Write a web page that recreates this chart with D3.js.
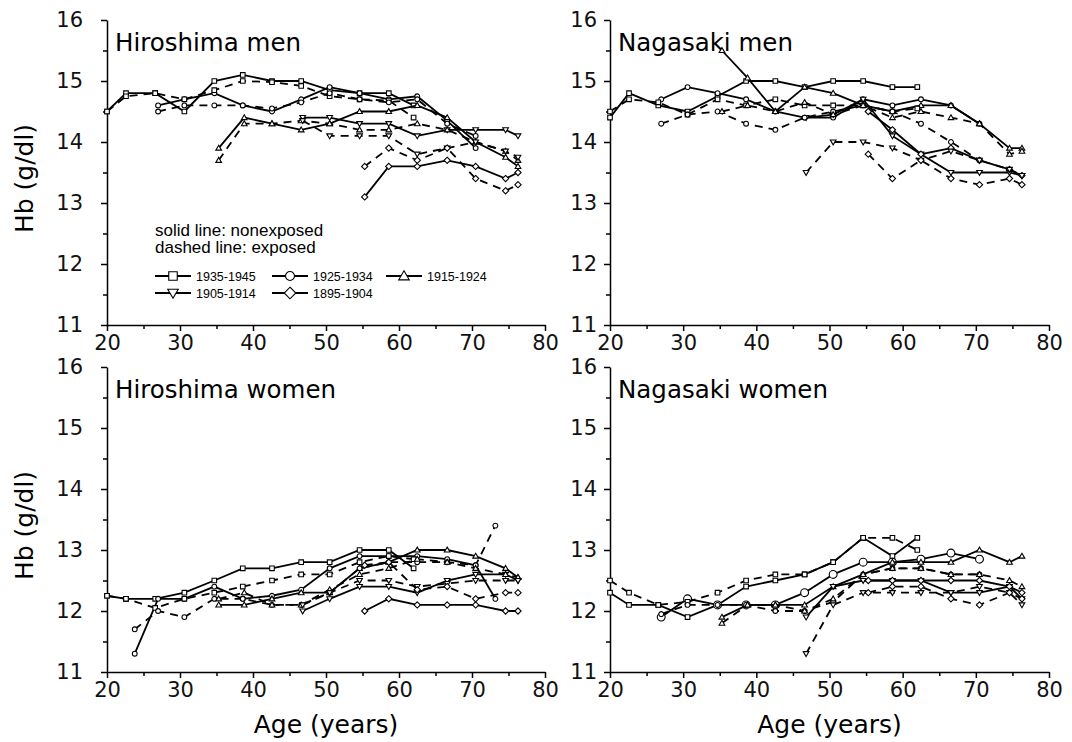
<!DOCTYPE html>
<html lang="en">
  <head>
    <meta charset="UTF-8" />
    <title>Hb by age and birth cohort</title>
    <style>
      body { margin: 0; background: #fff; }
      svg { display: block; }
      .tick text { font-family: "DejaVu Sans", sans-serif; font-size: 21px; fill: #111; }
      .axis path, .axis line { stroke: #000; stroke-width: 1.5px; }
      .series { fill: none; stroke: #000; stroke-width: 1.8px; }
      .series.exp { stroke-dasharray: 8, 6; }
      .mark { fill: #fff; stroke: #000; stroke-width: 1.1px; }
      .title { font-family: "DejaVu Sans", sans-serif; font-size: 24.5px; fill: #000; }
      .axtitle { font-family: "DejaVu Sans", sans-serif; font-size: 25px; fill: #000; }
      .legend { font-family: "Liberation Sans", Arial, sans-serif; fill: #000; }
    </style>
  </head>

  <body>
    <script src="https://cdn.jsdelivr.net/npm/d3@7"></script>
    <script>
      /* global d3 */

      // birth cohorts and the mean age at each examination cycle
      const cohorts = ["1935-1945", "1925-1934", "1915-1924", "1905-1914", "1895-1904"];
      const age1935 = [20.0, 22.6, 26.6, 30.6, 34.7, 38.6, 42.6, 46.6, 50.5, 54.6, 58.6, 62.0];
      const age1925 = [23.8, 27.0, 30.6, 34.7, 38.6, 42.6, 46.6, 50.5, 54.6, 58.6, 62.5, 66.6, 70.5, 73.2];
      const age1915 = [35.3, 38.8, 42.6, 46.6, 50.5, 54.6, 58.6, 62.5, 66.6, 70.5, 74.6, 76.3];
      const age1905 = [46.8, 50.5, 54.6, 58.6, 62.5, 66.6, 70.5, 74.6, 76.3];
      const age1895 = [55.3, 58.6, 62.5, 66.6, 70.5, 74.6, 76.3];
      const cohortAges = [age1935, age1925, age1915, age1905, age1895];

      const xTicks = [20, 30, 40, 50, 60, 70, 80];
      const yTicks = [11, 12, 13, 14, 15, 16];

      // Hb (g/dl), one row per cohort, null = not examined
      const hiroMenNonexp = [
        [14.5, 14.8, 14.8, 14.5, 15.0, 15.1, 15.0, 15.0, 14.85, 14.8, 14.8, 14.6],
        [null, 14.6, 14.7, 14.8, 14.6, 14.5, 14.7, 14.9, 14.8, 14.7, 14.75, 14.35, 13.9, null],
        [13.9, 14.4, 14.3, 14.2, 14.3, 14.5, 14.5, 14.6, 14.4, 14.0, 13.75, 13.6],
        [14.4, 14.4, 14.3, 14.3, 14.1, 14.2, 14.2, 14.2, 14.1],
        [13.1, 13.6, 13.6, 13.7, 13.6, 13.4, 13.5]
      ];
      const hiroMenExp = [
        [14.5, 14.75, 14.8, 14.7, 14.85, 15.0, 14.98, 14.92, 14.75, 14.7, 14.68, 14.4],
        [null, 14.5, 14.6, 14.6, 14.6, 14.55, 14.65, 14.8, 14.7, 14.65, 14.7, 14.3, 14.1, null],
        [13.7, 14.3, 14.3, 14.35, 14.3, 14.2, 14.2, 14.3, 14.2, 14.0, 13.85, 13.7],
        [14.35, 14.1, 14.1, 14.1, 13.8, 13.9, 14.0, 13.85, 13.75],
        [13.6, 13.9, 13.7, 13.9, 13.4, 13.2, 13.3]
      ];
      const nagaMenNonexp = [
        [14.4, 14.8, 14.6, 14.5, 14.75, 15.0, 15.0, 14.9, 15.0, 15.0, 14.9, 14.9],
        [null, 14.7, 14.9, 14.8, 14.7, 14.5, 14.4, 14.4, 14.7, 14.6, 14.7, 14.6, 14.3, null],
        [15.5, 15.05, 14.5, 14.9, 14.8, 14.6, 14.5, 14.6, 14.6, 14.3, 13.9, 13.9],
        [14.4, 14.45, 14.7, 14.1, 13.8, 13.5, 13.5, 13.5, 13.45],
        [14.5, 14.2, 13.8, 13.9, 13.7, 13.55, 13.45]
      ];
      const nagaMenExp = [
        [14.5, 14.7, 14.65, 14.45, 14.7, 14.6, 14.7, 14.6, 14.6, 14.6, 14.5, 14.55],
        [null, 14.3, 14.45, 14.5, 14.3, 14.2, 14.4, 14.5, 14.6, 14.5, 14.3, 14.0, 13.7, null],
        [14.5, 14.6, 14.5, 14.65, 14.45, 14.6, 14.4, 14.5, 14.4, 14.3, 13.8, 13.85],
        [13.5, 14.0, 14.0, 13.9, 13.7, 13.85, 13.7, 13.55, 13.45],
        [13.8, 13.4, 13.7, 13.4, 13.3, 13.4, 13.3]
      ];
      const hiroWomenNonexp = [
        [12.25, 12.2, 12.2, 12.3, 12.5, 12.7, 12.7, 12.8, 12.8, 13.0, 13.0, 12.7],
        [11.3, 12.2, 12.2, 12.4, 12.2, 12.25, 12.35, 12.7, 12.9, 12.9, 12.9, 12.85, 12.75, 12.2],
        [12.1, 12.1, 12.2, 12.3, 12.3, 12.7, 12.8, 13.0, 13.0, 12.9, 12.7, 12.55],
        [12.0, 12.2, 12.4, 12.4, 12.3, 12.5, 12.6, 12.6, 12.5],
        [12.0, 12.2, 12.1, 12.1, 12.1, 12.0, 12.0]
      ];
      const hiroWomenExp = [
        [12.25, 12.2, 12.05, 12.2, 12.3, 12.4, 12.5, 12.6, 12.6, 12.8, 12.9, 12.85],
        [11.7, 12.0, 11.9, 12.2, 12.2, 12.1, 12.1, 12.3, 12.7, 12.8, 12.8, 12.8, 12.75, 13.4],
        [12.2, 12.3, 12.1, 12.1, 12.35, 12.6, 12.7, 12.85, 12.8, 12.7, 12.6, 12.55],
        [12.1, 12.3, 12.5, 12.5, 12.4, 12.45, 12.5, 12.5, 12.5],
        [12.75, 12.8, 12.35, 12.4, 12.2, 12.3, 12.3]
      ];
      const nagaWomenNonexp = [
        [12.3, 12.1, 12.1, 11.9, 12.1, 12.4, 12.5, 12.6, 12.8, 13.2, 12.9, 13.2],
        [null, 11.9, 12.2, 12.1, 12.1, 12.1, 12.3, 12.6, 12.8, 12.8, 12.85, 12.95, 12.85, null],
        [11.9, 12.1, 12.1, 12.1, 12.4, 12.6, 12.8, 12.8, 12.8, 13.0, 12.8, 12.9],
        [11.9, 12.4, 12.5, 12.5, 12.5, 12.3, 12.3, 12.4, 12.2],
        [12.5, 12.5, 12.5, 12.5, 12.5, 12.4, 12.3]
      ];
      const nagaWomenExp = [
        [12.5, 12.3, 12.1, 12.15, 12.3, 12.5, 12.6, 12.6, 12.8, 13.2, 13.2, 13.0],
        [null, 11.95, 12.1, 12.1, 12.1, 12.0, 12.0, 12.15, 12.6, 12.7, 12.7, 12.6, 12.6, null],
        [11.8, 12.1, 12.1, 12.0, 12.2, 12.6, 12.7, 12.7, 12.6, 12.6, 12.5, 12.4],
        [11.3, 12.1, 12.3, 12.3, 12.3, 12.3, 12.4, 12.3, 12.1],
        [12.3, 12.4, 12.4, 12.2, 12.1, 12.3, 12.2]
      ];

      const width = 1072,
        height = 742;

      const svg = d3
        .select("body")
        .append("svg")
        .attr("width", width)
        .attr("height", height);

      const shapes = ["square", "circle", "up", "down", "diamond"];

      function markerPath(type, x, y, s) {
        const p = d3.path();
        const h = s / 2;
        if (type === "square") {
          p.rect(x - h, y - h, s, s);
        } else if (type === "circle") {
          p.moveTo(x + h * 1.05, y);
          p.arc(x, y, h * 1.05, 0, 2 * Math.PI);
        } else if (type === "up") {
          p.moveTo(x, y - s * 0.62);
          p.lineTo(x + s * 0.62, y + s * 0.45);
          p.lineTo(x - s * 0.62, y + s * 0.45);
          p.closePath();
        } else if (type === "down") {
          p.moveTo(x, y + s * 0.62);
          p.lineTo(x + s * 0.62, y - s * 0.45);
          p.lineTo(x - s * 0.62, y - s * 0.45);
          p.closePath();
        } else {
          p.moveTo(x, y - s * 0.68);
          p.lineTo(x + s * 0.68, y);
          p.lineTo(x, y + s * 0.68);
          p.lineTo(x - s * 0.68, y);
          p.closePath();
        }
        return p.toString();
      }

      const panels = [
        { title: "Hiroshima men", nonexp: hiroMenNonexp, exp: hiroMenExp,
          left: 107, right: 545, top: 20, bottom: 325, labelPad: 18, legend: true, yTitle: true },
        { title: "Nagasaki men", nonexp: nagaMenNonexp, exp: nagaMenExp,
          left: 610, right: 1049, top: 20, bottom: 325, labelPad: 7 },
        { title: "Hiroshima women", nonexp: hiroWomenNonexp, exp: hiroWomenExp,
          left: 107, right: 545, top: 367, bottom: 672, labelPad: 18, yTitle: true, xTitle: true },
        { title: "Nagasaki women", nonexp: nagaWomenNonexp, exp: nagaWomenExp,
          left: 610, right: 1049, top: 367, bottom: 672, labelPad: 7, xTitle: true, bigCircles: true }
      ];

      panels.forEach(pn => {
        const x = d3.scaleLinear().domain([20, 80]).range([pn.left, pn.right]);
        const y = d3.scaleLinear().domain([11, 16]).range([pn.bottom, pn.top]);
        const g = svg.append("g");

        // minor ticks
        g.append("g")
          .attr("class", "axis")
          .attr("transform", `translate(0,${pn.bottom})`)
          .call(d3.axisBottom(x).tickValues([25, 35, 45, 55, 65, 75]).tickSize(4).tickFormat(""))
          .call(a => a.select(".domain").remove());
        g.append("g")
          .attr("class", "axis")
          .attr("transform", `translate(${pn.left},0)`)
          .call(d3.axisLeft(y).tickValues([11.5, 12.5, 13.5, 14.5, 15.5]).tickSize(4).tickFormat(""))
          .call(a => a.select(".domain").remove());

        g.append("g")
          .attr("class", "axis")
          .attr("transform", `translate(0,${pn.bottom})`)
          .call(d3.axisBottom(x).tickValues(xTicks).tickSize(6).tickSizeOuter(0).tickPadding(4).tickFormat(d3.format("d")));
        g.append("g")
          .attr("class", "axis")
          .attr("transform", `translate(${pn.left},0)`)
          .call(d3.axisLeft(y).tickValues(yTicks).tickSize(6).tickSizeOuter(0).tickPadding(pn.labelPad).tickFormat(d3.format("d")));

        g.append("text")
          .attr("class", "title")
          .attr("x", pn.left + 8)
          .attr("y", pn.top + 31)
          .text(pn.title);

        const line = d3
          .line()
          .defined(d => d[1] != null)
          .x(d => x(d[0]))
          .y(d => y(d[1]));

        [["nonexp", pn.nonexp], ["exp", pn.exp]].forEach(([kind, rows]) => {
          rows.forEach((vals, ci) => {
            const pts = cohortAges[ci].map((a, i) => [a, vals[i]]);
            const size = pn.bigCircles && ci === 1 && kind === "nonexp" ? 7.5 : 4.6;
            g.append("path")
              .attr("class", "series " + kind)
              .attr("d", line(pts));
            g.selectAll(null)
              .data(pts.filter(d => d[1] != null))
              .join("path")
              .attr("class", "mark")
              .attr("d", d => markerPath(shapes[ci], x(d[0]), y(d[1]), size));
          });
        });

        if (pn.yTitle) {
          g.append("text")
            .attr("class", "axtitle")
            .attr("transform", `translate(33,${(pn.top + pn.bottom) / 2 + 6}) rotate(-90)`)
            .attr("text-anchor", "middle")
            .text("Hb (g/dl)");
        }
        if (pn.xTitle) {
          g.append("text")
            .attr("class", "axtitle")
            .attr("x", (pn.left + pn.right) / 2)
            .attr("y", 733)
            .attr("text-anchor", "middle")
            .text("Age (years)");
        }

        if (pn.legend) {
          const lg = g.append("g").attr("class", "legend");
          lg.append("text").attr("x", 155).attr("y", 236).attr("font-size", 17).text("solid line: nonexposed");
          lg.append("text").attr("x", 155).attr("y", 253).attr("font-size", 17).text("dashed line: exposed");
          const slots = [[155, 276], [272, 276], [386, 276], [155, 293], [272, 293]];
          cohorts.forEach((c, i) => {
            const [lx, ly] = slots[i];
            lg.append("line")
              .attr("x1", lx).attr("x2", lx + 36)
              .attr("y1", ly).attr("y2", ly)
              .attr("stroke", "#000").attr("stroke-width", 2);
            lg.append("path")
              .attr("class", "mark")
              .attr("d", markerPath(shapes[i], lx + 18, ly, 8.5));
            lg.append("text")
              .attr("x", lx + 41)
              .attr("y", ly + 4.5)
              .attr("font-size", 12.5)
              .text(c);
          });
        }
      });
    </script>
  </body>
</html>
